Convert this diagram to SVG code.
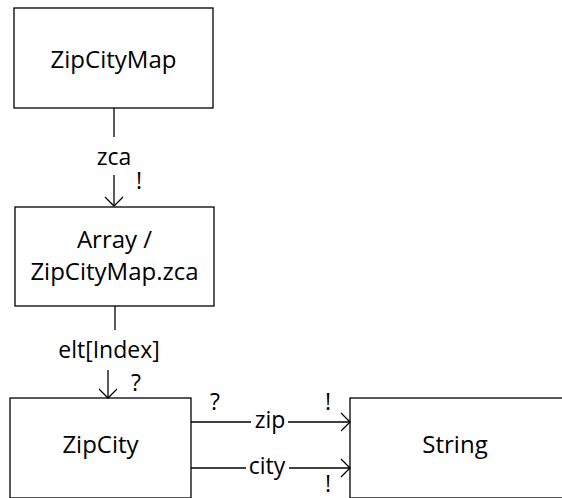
<svg xmlns="http://www.w3.org/2000/svg" width="562" height="498" viewBox="0 0 562 498">
<style>
.box{fill:#fff;stroke:#000;stroke-width:1.3}
.t{font-family:"Open Sans","Liberation Sans",sans-serif;font-size:24px;fill:#000;text-anchor:middle}
.l{font-family:"Open Sans","Liberation Sans",sans-serif;font-size:23px;fill:#000;text-anchor:middle}
.c{stroke:#000;stroke-width:1.3;fill:none}
</style>
<defs>
<marker id="a" markerWidth="20" markerHeight="20" refX="10" refY="10" orient="auto" markerUnits="userSpaceOnUse">
<path d="M1,1 L10,10 L1,19" fill="none" stroke="#000" stroke-width="1.3"/>
</marker>
</defs>
<g id="ZipCityMap"><rect class="box" x="14" y="8" width="199" height="100"/><text class="t" x="113.5" y="68">ZipCityMap</text></g>
<g id="Array"><rect class="box" x="15" y="207" width="199" height="99"/><text class="t" x="114.5" y="248">Array /</text><text class="t" x="114.5" y="280">ZipCityMap.zca</text></g>
<g id="ZipCity"><rect class="box" x="10" y="398" width="181" height="100"/><text class="t" x="100.5" y="453">ZipCity</text></g>
<g id="String"><rect class="box" x="350" y="398" width="220" height="100"/><text class="t" x="455" y="453">String</text></g>
<g id="connectors">
<path class="c" d="M114,108 V137"/>
<path class="c" d="M114,175 V206" marker-end="url(#a)"/>
<text class="l" x="114" y="165">zca</text>
<text class="l" x="139" y="189">!</text>
<path class="c" d="M115,306 V330"/>
<path class="c" d="M108,370 V398" marker-end="url(#a)"/>
<text class="l" x="109" y="358">elt[Index]</text>
<text class="l" x="136" y="391">?</text>
<path class="c" d="M191,422 H251"/>
<path class="c" d="M288,422 H350" marker-end="url(#a)"/>
<text class="l" x="270" y="428">zip</text>
<text class="l" x="215" y="410">?</text>
<text class="l" x="328" y="410">!</text>
<path class="c" d="M191,468 H246"/>
<path class="c" d="M289,468 H350" marker-end="url(#a)"/>
<text class="l" x="267" y="474">city</text>
<text class="l" x="328" y="492">!</text>
</g>
</svg>
